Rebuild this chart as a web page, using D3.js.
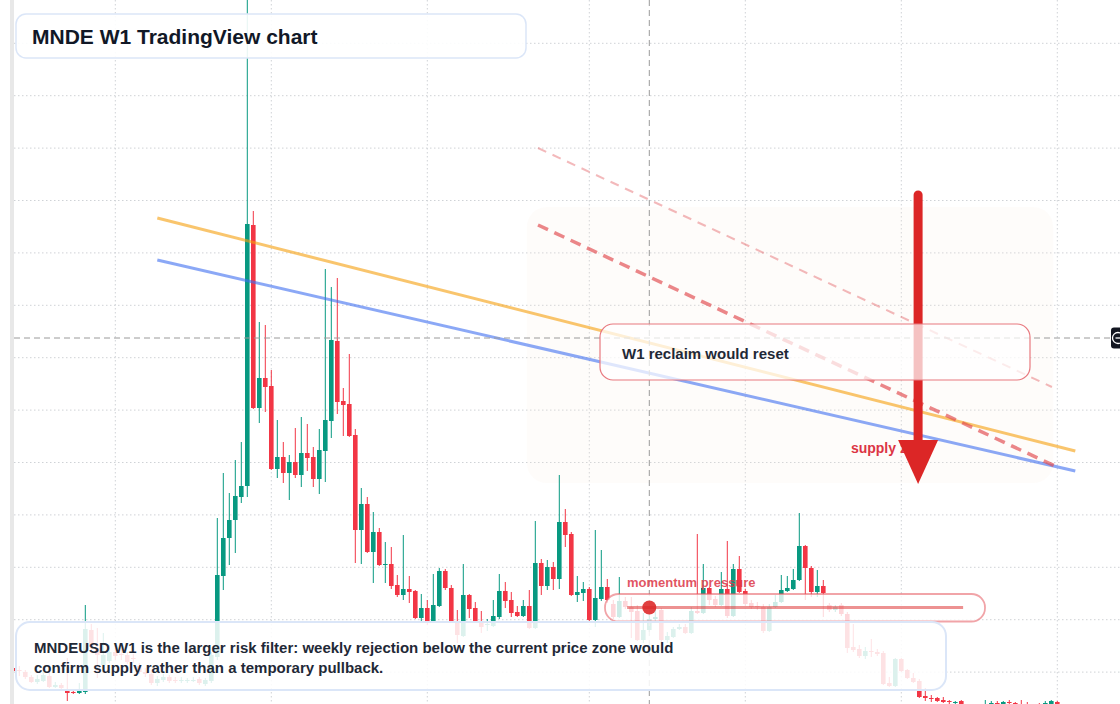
<!DOCTYPE html>
<html><head><meta charset="utf-8">
<script src="https://cdn.jsdelivr.net/npm/d3@7"></script>
<style>html,body{margin:0;padding:0;background:#fff;overflow:hidden}</style>
</head><body><svg id="c" width="1120" height="704"></svg>
<script>
// MNDEUSD weekly candles, prices in units of 0.0001 USD, index = week number
const open = [56,54,52,47,42,43,48,37,39,34, 32,31,32,94,76,59,63,72,70,69, 66,58,52,50,41,44,47,44,43,43,
 43,45,40,43,67,148,186,204,227,238, 499,316,346,338,255,267,251,262,249,271, 267,245,273,303,383,323,320,289,194,220,
 172,192,159,160,139,129,135,133,106,116, 103,118,153,136,103,88,129,116,103,99, 98,107,133,124,112,108,118,96,161,138,
 157,145,202,190,129,131,135,104,125,137, 120,107,123,117,113,84,94,105,114,84, 87,95,97,91,113,111,136,125,119,135,
 108,155,133,121,118,117,93,117,122,133, 135,144,178,156,132,138,119,114,119,110, 77,75,68,73,72,71,41,38,65,54,
 46,43,28,26,26,24,23,21,23,18, 15,12,18,18,21,20,22,21,19,18, 15,17,18,20,22];
const close = [53,53,47,42,45,49,37,39,36,31, 31,33,95,77,69,69,72,68,69,62, 65,52,50,41,45,47,43,43,44,44,
 44,41,44,69,149,186,204,228,238,500, 316,346,337,255,267,251,262,249,271,266, 245,274,304,384,322,319,288,194,220,172,
 192,159,160,138,129,135,132,106,116,103, 119,153,136,103,89,129,115,103,97,100, 108,133,123,111,108,118,96,161,138,157,
 145,202,189,129,132,135,104,126,137,124, 107,123,117,112,84,94,105,107,84,88, 95,97,91,113,111,136,124,119,135,108,
 155,132,120,117,117,93,117,122,134,136, 144,178,156,132,138,131,114,117,110,76, 74,68,73,72,70,40,38,65,53,46,
 42,27,26,25,23,22,22,22,20,14, 12,16,20,21,18,22,21,18,16,15, 17,15,21,23,19];
const high = [58,58,54,49,49,52,53,42,41,66, 34,41,119,100,96,91,79,76,76,72, 70,61,56,54,48,50,49,47,47,46,
 47,47,46,72,206,251,231,264,282,744, 513,402,399,354,304,282,269,296,307,300, 277,295,455,437,446,336,370,295,236,227,
 212,196,182,177,149,189,148,134,130,124, 150,156,155,139,114,160,130,122,113,105, 124,150,142,132,118,124,134,203,165,164,
 162,249,215,192,148,142,137,194,174,145, 124,147,127,127,119,111,112,116,116,92, 97,100,100,117,190,160,137,128,152,183,
 160,168,135,124,122,120,120,129,149,148, 155,211,179,158,154,144,121,119,121,112, 100,79,77,85,75,73,47,66,66,55,
 51,45,36,29,27,27,24,23,24,20, 18,18,24,23,23,23,24,22,24,22, 20,21,23,24,23];
const low = [51,48,45,41,40,42,36,36,35,23, 30,30,30,74,46,54,61,64,64,60, 61,50,47,39,38,42,41,41,41,41,
 42,39,38,41,64,134,159,171,221,227, 315,301,312,254,246,241,224,246,237,253, 237,230,242,286,310,288,287,161,160,171,
 141,158,141,135,127,124,121,105,103,99, 102,117,134,102,81,87,106,102,91,93, 97,105,116,107,107,107,95,95,129,134,
 134,135,177,128,122,123,103,97,123,121, 105,106,115,86,83,81,92,103,82,81, 86,94,90,90,110,110,119,117,118,106,
 107,131,118,115,114,91,92,116,121,132, 134,143,124,127,127,107,112,112,108,71, 72,66,65,67,68,39,37,37,52,45,
 41,26,23,22,22,21,20,20,18,12, 10,10,16,16,16,18,19,16,14,13, 13,13,16,18,17];

// grid levels (price) and vertical grid (week index)
const gridLevels = [51.9,104.3,156.7,209.1,261.5,313.9,366.3,418.7,471.1,523.5,575.9,628.3,680.7];
const gridWeeks = [17,43,69,96,122,148,174];

// annotation geometry in data space [week, price]
const orangeLine = [[24,506],[177,273]];
const blueLine = [[24,464],[177,253]];
const dashStrong = [[87.45,499],[173.6,258]];
const dashFaint = [[87.45,576],[173.1,337]];
const supplyZone = {w0:85.6, w1:173.3, p0:241, p1:517};
const arrowPts = {week:150.8, from:529, to:240};
const supplyLabel = {week:139.6, price:271, text:"supply zone"};
const momentumLine = {w0:102.3, w1:158.3, price:116.5, dotWeek:106};
const crosshair = {week:106, price:386};

const titleText = "MNDE W1 TradingView chart";
const noteLines = ["MNDEUSD W1 is the larger risk filter: weekly rejection below the current price zone would",
                   "confirm supply rather than a temporary pullback."];
const reclaimText = "W1 reclaim would reset";
const momentumText = "momentum pressure";

const W = 1120, H = 704;
const FONT = "'Liberation Sans', Arial, Helvetica, sans-serif";
const svg = d3.select("#c").attr("font-family", FONT);
const x = d3.scaleLinear().domain([0, 174]).range([13.3, 1057.3]);
const y = d3.scaleLinear().domain([0, 724]).range([724, 0]);
const UP = "#089981", DOWN = "#f23645";

svg.append("rect").attr("width", W).attr("height", H).attr("fill", "#fff");
const defs = svg.append("defs");
defs.append("clipPath").attr("id", "plot").append("rect").attr("x", 14).attr("y", 0).attr("width", W - 14).attr("height", H);

const plot = svg.append("g").attr("clip-path", "url(#plot)");

// grid
plot.append("g").selectAll("line").data(gridLevels).join("line")
  .attr("x1", 14).attr("x2", W).attr("y1", d => y(d)).attr("y2", d => y(d))
  .attr("stroke", "#cfd2d6").attr("stroke-dasharray", "1.5,2.5");
plot.append("g").selectAll("line").data(gridWeeks).join("line")
  .attr("x1", d => x(d)).attr("x2", d => x(d)).attr("y1", 0).attr("y2", H)
  .attr("stroke", "#cfd2d6").attr("stroke-dasharray", "1.5,2.5");

// supply zone
plot.append("rect")
  .attr("x", x(supplyZone.w0)).attr("y", y(supplyZone.p1))
  .attr("width", x(supplyZone.w1) - x(supplyZone.w0)).attr("height", y(supplyZone.p0) - y(supplyZone.p1))
  .attr("rx", 20).attr("fill", "#f7ebe0").attr("opacity", 0.16);

// candles
const idx = d3.range(open.length);
const cg = plot.append("g");
cg.selectAll("line").data(idx).join("line")
  .attr("x1", i => x(i)).attr("x2", i => x(i))
  .attr("y1", i => y(high[i])).attr("y2", i => y(low[i]))
  .attr("stroke", i => close[i] >= open[i] ? UP : DOWN).attr("stroke-width", 1);
cg.selectAll("rect").data(idx).join("rect")
  .attr("x", i => x(i) - 2.3).attr("width", 4.6)
  .attr("y", i => y(Math.max(open[i], close[i])))
  .attr("height", i => Math.max(1, Math.abs(y(open[i]) - y(close[i]))))
  .attr("fill", i => close[i] >= open[i] ? UP : DOWN);

// trend lines
const line = d3.line().x(d => x(d[0])).y(d => y(d[1]));
plot.append("path").attr("d", line(orangeLine)).attr("stroke", "#f59e0b").attr("stroke-opacity", 0.6).attr("stroke-width", 3).attr("fill", "none");
plot.append("path").attr("d", line(blueLine)).attr("stroke", "#3d6ef0").attr("stroke-opacity", 0.6).attr("stroke-width", 3).attr("fill", "none");
plot.append("path").attr("d", line(dashFaint)).attr("stroke", "#e0474c").attr("stroke-opacity", 0.38).attr("stroke-width", 2).attr("stroke-dasharray", "9,7").attr("fill", "none");
plot.append("path").attr("d", line(dashStrong)).attr("stroke", "#e0474c").attr("stroke-opacity", 0.65).attr("stroke-width", 3.5).attr("stroke-dasharray", "11,7").attr("fill", "none");

// crosshair
plot.append("line").attr("x1", x(crosshair.week)).attr("x2", x(crosshair.week)).attr("y1", 0).attr("y2", H)
  .attr("stroke", "#9a9a9a").attr("stroke-dasharray", "6,4");
plot.append("line").attr("x1", 14).attr("x2", 1111).attr("y1", y(crosshair.price)).attr("y2", y(crosshair.price))
  .attr("stroke", "#9a9a9a").attr("stroke-dasharray", "6,4");

// supply label + arrow
plot.append("text").attr("x", x(supplyLabel.week)).attr("y", y(supplyLabel.price))
  .attr("fill", "#dc3545").attr("font-weight", "bold").attr("font-size", 14).text(supplyLabel.text);
const ax = x(arrowPts.week), aTop = y(arrowPts.from), aTip = y(arrowPts.to);
plot.append("line").attr("x1", ax).attr("x2", ax).attr("y1", aTop).attr("y2", aTip - 40)
  .attr("stroke", "#dc2626").attr("stroke-width", 9).attr("stroke-linecap", "round");
plot.append("path").attr("d", `M${ax - 20},${aTip - 44}L${ax + 20},${aTip - 44}L${ax},${aTip}Z`).attr("fill", "#dc2626");

// reclaim box
svg.append("rect").attr("x", 600).attr("y", 324).attr("width", 430).attr("height", 56).attr("rx", 13)
  .attr("fill", "#fff").attr("fill-opacity", 0.72).attr("stroke", "#e8797f").attr("stroke-width", 1.2);
svg.append("text").attr("x", 622).attr("y", 359).attr("font-size", 15).attr("font-weight", "bold")
  .attr("fill", "#1f2937").text(reclaimText);

// momentum pressure
svg.append("text").attr("x", 627).attr("y", 587).attr("font-size", 13).attr("font-weight", "bold")
  .attr("fill", "#dc3545").attr("fill-opacity", 0.85).text(momentumText);
svg.append("rect").attr("x", 605).attr("y", 594).attr("width", 380).attr("height", 27.5).attr("rx", 13.5)
  .attr("fill", "#fff").attr("fill-opacity", 0.8).attr("stroke", "#e65a60").attr("stroke-opacity", 0.55).attr("stroke-width", 1.8);
svg.append("line").attr("x1", x(momentumLine.w0)).attr("x2", x(momentumLine.w1))
  .attr("y1", y(momentumLine.price)).attr("y2", y(momentumLine.price))
  .attr("stroke", "#dc2626").attr("stroke-opacity", 0.5).attr("stroke-width", 3.2);
svg.append("circle").attr("cx", x(momentumLine.dotWeek)).attr("cy", y(momentumLine.price)).attr("r", 7)
  .attr("fill", "#dc2626").attr("fill-opacity", 0.88);

// bottom note box
svg.append("rect").attr("x", 16).attr("y", 622).attr("width", 930).attr("height", 68).attr("rx", 14)
  .attr("fill", "#fff").attr("fill-opacity", 0.86).attr("stroke", "#dbe6f8").attr("stroke-width", 2);
svg.append("g").selectAll("text").data(noteLines).join("text")
  .attr("x", 34).attr("y", (d, i) => 653 + i * 20).attr("font-size", 15).attr("font-weight", "bold")
  .attr("fill", "#1f2937").text(d => d);

// title box
svg.append("rect").attr("x", 16).attr("y", 14).attr("width", 510).attr("height", 44).attr("rx", 10)
  .attr("fill", "#fff").attr("fill-opacity", 0.9).attr("stroke", "#dbe6f8").attr("stroke-width", 1.5);
svg.append("text").attr("x", 32).attr("y", 43.5).attr("font-size", 21).attr("font-weight", "bold")
  .attr("fill", "#111827").text(titleText);

// left panel edge and right price marker
svg.append("rect").attr("x", 10).attr("y", 0).attr("width", 4).attr("height", H).attr("fill", "#e8e8e8");
const mk = svg.append("g");
mk.append("rect").attr("x", 1111).attr("y", y(crosshair.price) - 10.5).attr("width", 14).attr("height", 21).attr("rx", 3).attr("fill", "#131722");
mk.append("circle").attr("cx", 1118).attr("cy", y(crosshair.price)).attr("r", 5.5).attr("fill", "none").attr("stroke", "#fff").attr("stroke-width", 1.3);
mk.append("line").attr("x1", 1115.5).attr("x2", 1120.5).attr("y1", y(crosshair.price)).attr("y2", y(crosshair.price)).attr("stroke", "#fff").attr("stroke-width", 1.3);
</script></body></html>
